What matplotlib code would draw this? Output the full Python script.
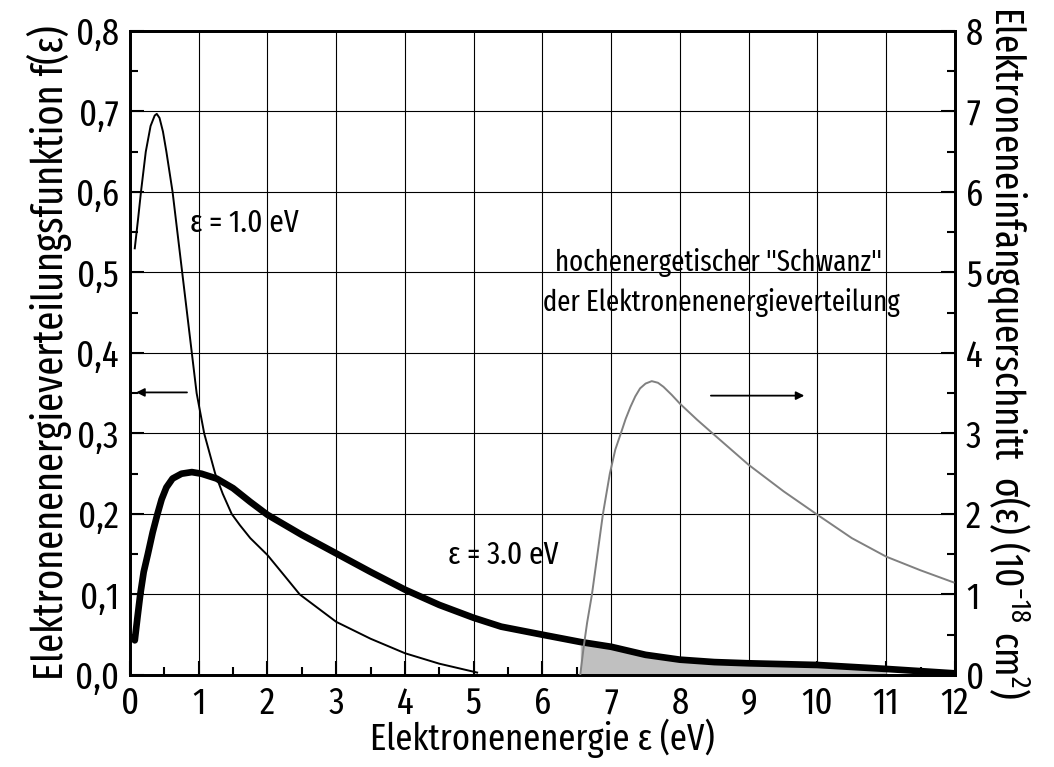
import numpy as np
import matplotlib
matplotlib.use('Agg')
import matplotlib.pyplot as plt
from matplotlib.ticker import MultipleLocator, FuncFormatter

plt.rcParams['font.family'] = ['Fira Sans Extra Condensed', 'DejaVu Sans']
plt.rcParams['mathtext.default'] = 'regular'

# EEDF, mean energy 1.0 eV (thin line)
e1 = [0.07, 0.12, 0.16, 0.23, 0.30, 0.36, 0.39, 0.43, 0.48, 0.53, 0.62, 0.69, 0.76, 0.83,
      0.90, 0.97, 1.08, 1.24, 1.35, 1.48, 1.6, 1.75, 2.0, 2.25, 2.47, 3.0, 3.5, 4.0, 4.5, 5.05]
f1 = [0.530, 0.568, 0.600, 0.650, 0.682, 0.695, 0.697, 0.692, 0.675, 0.650, 0.600, 0.550, 0.500, 0.450,
      0.400, 0.350, 0.300, 0.250, 0.225, 0.200, 0.186, 0.170, 0.149, 0.123, 0.100, 0.066, 0.045, 0.027, 0.014, 0.003]

# EEDF, mean energy 3.0 eV (thick line)
e3 = [0.07, 0.11, 0.15, 0.20, 0.26, 0.33, 0.40, 0.46, 0.53, 0.62, 0.75, 0.90, 1.04, 1.26, 1.5,
      1.75, 2.0, 2.5, 3.0, 3.5, 4.0, 4.5, 5.0, 5.4, 5.7, 6.0, 6.55, 7.0, 7.5, 8.0, 8.5, 9.0, 10.0, 11.0, 12.0]
f3 = [0.043, 0.072, 0.100, 0.128, 0.150, 0.177, 0.200, 0.218, 0.233, 0.244, 0.250, 0.252, 0.250, 0.244, 0.232,
      0.215, 0.199, 0.174, 0.151, 0.128, 0.106, 0.087, 0.071, 0.060, 0.055, 0.050, 0.041, 0.035, 0.025, 0.019, 0.016, 0.0145, 0.0124, 0.0075, 0.002]

# capture cross section (grey line, right axis, 1e-18 cm^2)
es = [6.55, 6.60, 6.65, 6.72, 6.80, 6.88, 6.98, 7.06, 7.14, 7.21, 7.28, 7.35, 7.42, 7.50, 7.59,
      7.68, 7.76, 7.88, 8.0, 8.25, 8.49, 9.0, 9.51, 10.0, 10.5, 11.0, 11.5, 11.98]
sig = [0.0, 0.35, 0.65, 1.00, 1.50, 2.00, 2.50, 2.80, 3.00, 3.18, 3.33, 3.46, 3.56, 3.62, 3.65,
       3.63, 3.58, 3.48, 3.37, 3.17, 2.99, 2.61, 2.28, 1.99, 1.70, 1.47, 1.30, 1.15]

fs = 27

fig = plt.figure(figsize=(10.54, 7.67), dpi=100)
ax = fig.add_axes([0.1233, 0.120, 0.7827, 0.8396])
ax2 = ax.twinx()

# shaded high-energy tail
e3a = np.array(e3)
f3a = np.array(f3)
mask = (e3a >= 6.55) & (e3a <= 11.0)
ax.fill_between(e3a[mask], 0, f3a[mask], color='#c0c0c0', lw=0, zorder=1)

ax.plot(e1, f1, color='black', lw=1.4, zorder=3)
ax.plot(e3, f3, color='black', lw=4.8, solid_capstyle='round', solid_joinstyle='round', zorder=4)
ax2.plot(es, sig, color='#808080', lw=1.4, zorder=3)

ax.set_xlim(0, 12)
ax.set_ylim(0, 0.8)
ax2.set_ylim(0, 8)

ax.xaxis.set_major_locator(MultipleLocator(1))
ax.xaxis.set_minor_locator(MultipleLocator(0.5))
ax.yaxis.set_major_locator(MultipleLocator(0.1))
ax.yaxis.set_minor_locator(MultipleLocator(0.05))
ax.yaxis.set_major_formatter(FuncFormatter(lambda v, p: ('%.1f' % v).replace('.', ',')))
ax2.yaxis.set_major_locator(MultipleLocator(1))
ax2.yaxis.set_minor_locator(MultipleLocator(0.5))

ax.grid(True, which='major', color='black', lw=0.8)
ax.set_axisbelow(True)

for a in (ax, ax2):
    a.tick_params(which='major', direction='in', length=10, width=1.5, labelsize=fs)
    a.tick_params(which='minor', direction='in', length=6, width=1.5)
    for s in a.spines.values():
        s.set_linewidth(2)
ax.tick_params(top=False, right=False)
ax.tick_params(axis='x', pad=8)
ax.tick_params(axis='y', pad=8)
ax2.tick_params(pad=8)

ax.set_xlabel('Elektronenenergie ε (eV)', fontsize=fs, labelpad=-2)
ax.set_ylabel('Elektronenenergieverteilungsfunktion f(ε)', fontsize=fs + 3, labelpad=2)
ax2.set_ylabel('Elektroneneinfangquerschnitt  σ(ε) (10$^{-18}$ cm$^{2}$)',
               fontsize=fs + 2, rotation=270, labelpad=34)

ax.text(0.87, 0.561, 'ε = 1.0 eV', fontsize=fs - 4, va='center', ha='left')
ax.text(4.63, 0.149, 'ε = 3.0 eV', fontsize=fs - 4, va='center', ha='left')
ax.text(8.56, 0.512, 'hochenergetischer "Schwanz"', fontsize=fs - 6, va='center', ha='center')
ax.text(8.6, 0.463, 'der Elektronenenergieverteilung', fontsize=fs - 6, va='center', ha='center')

ax.annotate('', xy=(0.05, 0.351), xytext=(0.87, 0.351),
            arrowprops=dict(arrowstyle='-|>', color='black', lw=1.3, mutation_scale=12))
ax2.annotate('', xy=(9.85, 3.47), xytext=(8.41, 3.47),
             arrowprops=dict(arrowstyle='-|>', color='black', lw=1.3, mutation_scale=12))

fig.savefig('out.png', dpi=100)
